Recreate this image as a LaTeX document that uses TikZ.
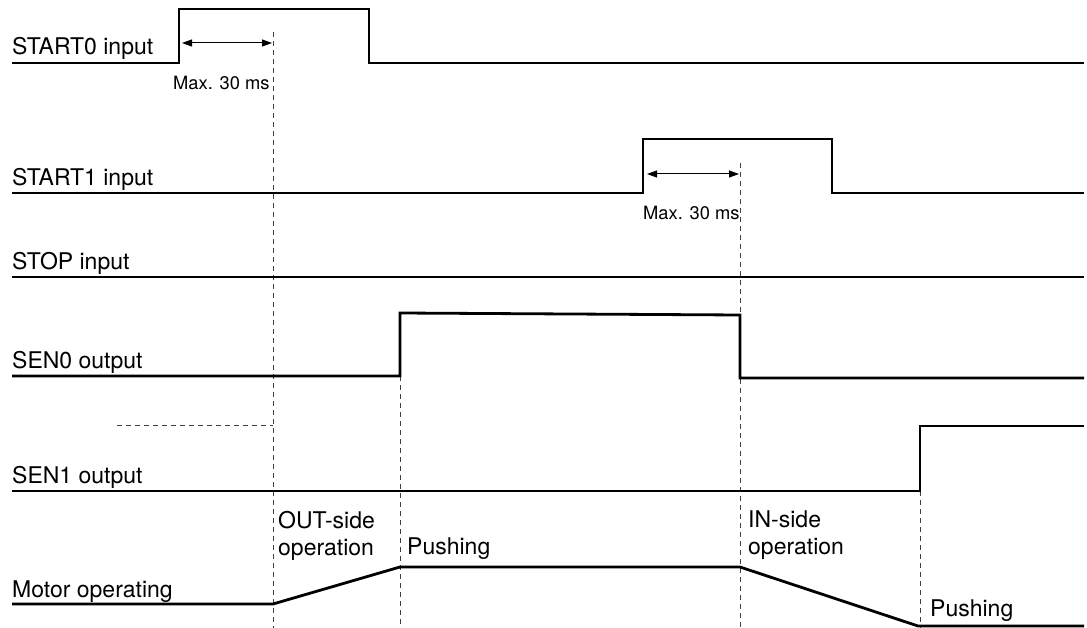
\documentclass[tikz,border=0pt]{standalone}
\usepackage{fontspec}
\setmainfont{TeX Gyre Heros}
\usetikzlibrary{arrows.meta}
\tikzset{
  signal/.style={draw=black,line width=2.8pt,line join=miter},
  guide/.style={draw=black!75,line width=.9pt,dash pattern=on 5pt off 4pt},
  span/.style={{Triangle[length=10pt,width=7pt]}-{Triangle[length=10pt,width=7pt]},draw=black,line width=1pt},
  siglabel/.style={anchor=base west,inner sep=0pt,font=\fontsize{23}{27}\selectfont},
  phase/.style={anchor=north west,inner sep=0pt,align=left,font=\fontsize{23}{27}\selectfont},
  note/.style={anchor=base west,inner sep=0pt,font=\fontsize{18.3}{22}\selectfont},
}
\begin{document}
\begin{tikzpicture}[x=1pt,y=-1pt]
\useasboundingbox (0,0) rectangle (1087,628);
% event times
\coordinate (goA) at (273,32); \coordinate (goAend) at (273,628);
\coordinate (senA) at (400,376); \coordinate (senAend) at (400,628);
\coordinate (goB) at (740,163); \coordinate (goBend) at (740,628);
\coordinate (senB) at (920,491); \coordinate (senBend) at (920,628);
\coordinate (idle) at (117,425); \coordinate (idleend) at (273,425);
\draw[guide] (goA) -- (goAend); \draw[guide] (senA) -- (senAend);
\draw[guide] (goB) -- (goBend); \draw[guide] (senB) -- (senBend);
\draw[guide] (idle) -- (idleend);
% signal names
\node[siglabel] (start0) at (12,55) {START0 input};
\node[siglabel] (start1) at (12,186) {START1 input};
\node[siglabel] (stop) at (12,270) {STOP input};
\node[siglabel] (sen0) at (12,368) {SEN0 output};
\node[siglabel] (sen1) at (12,483) {SEN1 output};
\node[siglabel] (motor) at (12,597) {Motor operating};
% waveforms
\draw[signal] (12,63) -- (179,63) -- (179,9) -- (369,9) -- (369,63) -- (1084,63);
\draw[signal] (12,193) -- (643,193) -- (643,139) -- (832,139) -- (832,193) -- (1084,193);
\draw[signal] (12,277) -- (1084,277);
\draw[signal] (12,376) -- (400,376) -- (400,313) -- (740,315) -- (740,378) -- (1084,378);
\draw[signal] (12,491) -- (920,491) -- (920,426) -- (1084,426);
\draw[signal] (12,604) -- (273,604) -- (400,567) -- (740,567) -- (918,626) -- (1084,626);
% response limits
\coordinate (riseA) at (182,43); \coordinate (limA) at (272,43);
\coordinate (riseB) at (647,174); \coordinate (limB) at (739,174);
\draw[span] (riseA) -- (limA); \draw[span] (riseB) -- (limB);
\node[note] (maxA) at (173,90) {Max. 30 ms};
\node[note] (maxB) at (643,220) {Max. 30 ms};
% motor phases
\node[phase] (outside) at (278,511) {OUT-side\\operation};
\node[phase] (push1) at (407,538) {Pushing};
\node[phase] (inside) at (748,511) {IN-side\\operation};
\node[phase] (push2) at (930,600) {Pushing};
\end{tikzpicture}
\end{document}
